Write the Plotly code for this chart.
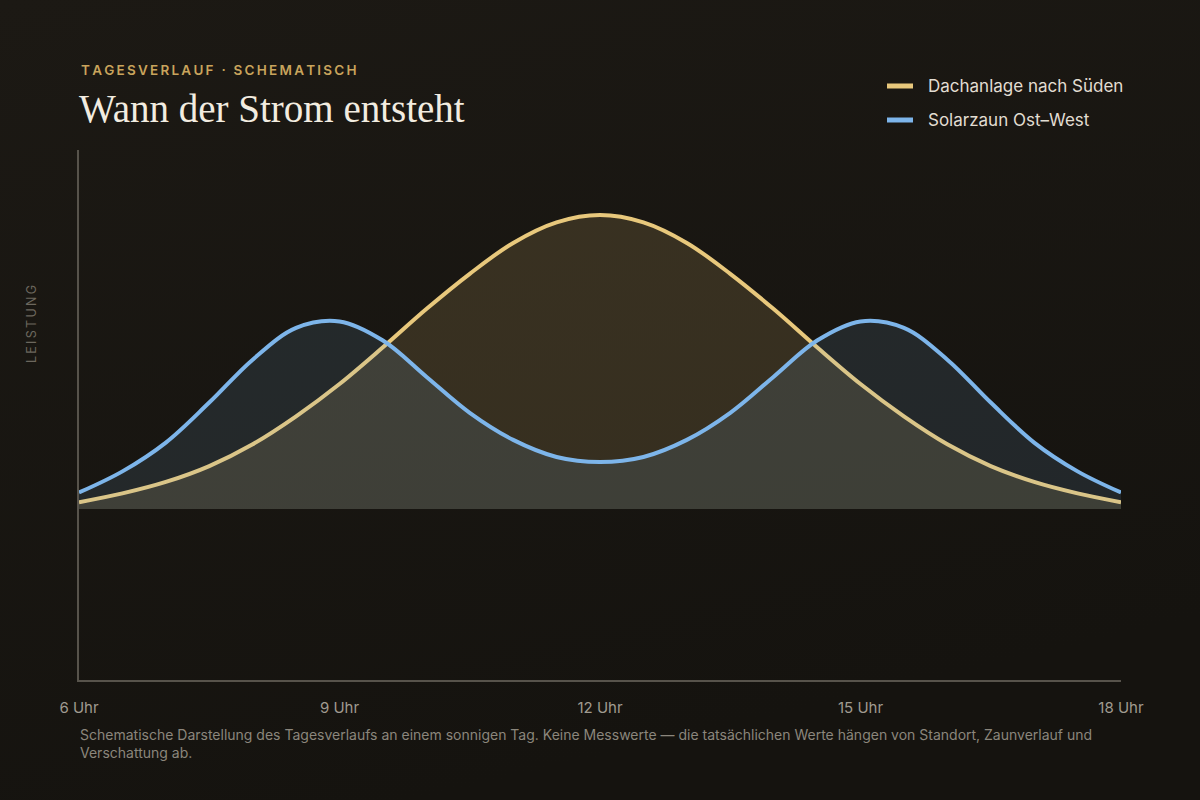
import base64
import plotly.graph_objects as go

# ---- data (arbitrary units, 0 = baseline) ----
hours = [6, 6.5, 7, 7.5, 8, 8.5, 9, 9.5, 10, 10.5, 11, 11.5, 12,
         12.5, 13, 13.5, 14, 14.5, 15, 15.5, 16, 16.5, 17, 17.5, 18]
dach_sued = [2.3, 5.3, 9.2, 14.6, 22.0, 31.5, 42.5, 55.0, 68.0, 80.0, 90.5, 97.5, 100.0,
             97.5, 90.5, 80.0, 68.0, 55.0, 42.5, 31.5, 22.0, 14.6, 9.2, 5.3, 2.3]
zaun_ostwest = [5.6, 12.8, 22.6, 36.2, 50.8, 61.6, 63.8, 57.3, 45.0, 32.7, 23.5, 17.7, 16.0,
                17.7, 23.5, 32.7, 45.0, 57.3, 63.8, 61.6, 50.8, 36.2, 22.6, 12.8, 5.6]
tick_vals = [6, 9, 12, 15, 18]
tick_text = ["6 Uhr", "9 Uhr", "12 Uhr", "15 Uhr", "18 Uhr"]
series_names = ["Dachanlage nach Süden", "Solarzaun Ost–West"]

BG = "#1a1712"
GOLD = "#e8c87c"
BLUE = "#7db5ea"
SANS = "Inter, 'Noto Sans', sans-serif"

fig = go.Figure()
fig.add_trace(go.Scatter(
    x=hours, y=dach_sued, name=series_names[0], mode="lines",
    line=dict(color=GOLD, width=4, shape="spline", smoothing=1.0),
    fill="tozeroy", fillcolor="rgba(232,200,124,0.15)", hoverinfo="skip"))
fig.add_trace(go.Scatter(
    x=hours, y=zaun_ostwest, name=series_names[1], mode="lines",
    line=dict(color=BLUE, width=4, shape="spline", smoothing=1.0),
    fill="tozeroy", fillcolor="rgba(125,181,234,0.12)", hoverinfo="skip"))

L, R, T, B = 79, 79, 150, 120
W, H = 1200, 800
pw, ph = W - L - R, H - T - B

def px(x):
    return (x - L) / pw

def py(y):
    return (H - B - y) / ph

thin = "\u2009"
sub = thin.join("TAGESVERLAUF · SCHEMATISCH")
ylab = thin.join("LEISTUNG")

ann = [
    dict(x=px(79), y=py(70), text=sub, xanchor="left", yanchor="middle",
         font=dict(family=SANS, size=13.5, color="#c9a45c", weight=600)),
    dict(x=px(77), y=py(109), text="Wann der Strom entsteht", xanchor="left", yanchor="middle",
         font=dict(family="'Liberation Serif', 'DejaVu Serif', serif", size=39, color="#f2ece0")),
    dict(x=px(926), y=py(86), text=series_names[0], xanchor="left", yanchor="middle",
         font=dict(family=SANS, size=17, color="#e2ddd2")),
    dict(x=px(926), y=py(120), text=series_names[1], xanchor="left", yanchor="middle",
         font=dict(family=SANS, size=17, color="#e2ddd2")),
    dict(x=px(31), y=py(324), text=ylab, textangle=-90, xanchor="center", yanchor="middle",
         font=dict(family=SANS, size=12.5, color="#6c675e")),
    dict(x=px(78), y=py(724), text="Schematische Darstellung des Tagesverlaufs an einem sonnigen Tag. "
         "Keine Messwerte — die tatsächlichen Werte hängen von Standort, Zaunverlauf und<br>Verschattung ab.",
         xanchor="left", yanchor="top", align="left",
         font=dict(family=SANS, size=14, color="#8b867c")),
]
for a in ann:
    a.update(xref="paper", yref="paper", showarrow=False)

shapes = [
    dict(type="line", xref="paper", yref="paper", x0=px(887), x1=px(913), y0=py(86), y1=py(86),
         line=dict(color=GOLD, width=5)),
    dict(type="line", xref="paper", yref="paper", x0=px(887), x1=px(913), y0=py(120), y1=py(120),
         line=dict(color=BLUE, width=5)),
]

svg = ('<svg xmlns="http://www.w3.org/2000/svg" width="1200" height="800" viewBox="0 0 1200 800" '
       'preserveAspectRatio="none"><defs><linearGradient id="g" x1="0" y1="0" x2="0.35" y2="1">'
       '<stop offset="0" stop-color="#1c1914"/><stop offset="1" stop-color="#15130f"/>'
       '</linearGradient></defs><rect width="1200" height="800" fill="url(#g)"/></svg>')
bg_src = "data:image/svg+xml;base64," + base64.b64encode(svg.encode()).decode()

scale = 2.94  # px per unit
fig.update_layout(
    width=W, height=H,
    margin=dict(l=L, r=R, t=T, b=B, pad=0),
    paper_bgcolor=BG, plot_bgcolor="rgba(0,0,0,0)",
    showlegend=False,
    annotations=ann, shapes=shapes,
    images=[dict(source=bg_src, xref="paper", yref="paper", x=px(0), y=py(0),
                 sizex=W / pw, sizey=H / ph, sizing="stretch", layer="below",
                 xanchor="left", yanchor="top")],
    xaxis=dict(range=[6, 18], tickvals=tick_vals, ticktext=tick_text,
               showgrid=False, zeroline=False, showline=True, linecolor="#57534b", linewidth=1.5,
               ticks="", ticklabelstandoff=13,
               tickfont=dict(family=SANS, size=15, color="#a09b90")),
    yaxis=dict(range=[-(680 - 509) / scale, (509 - 150) / scale],
               showgrid=False, zeroline=False, showticklabels=False, ticks="",
               showline=True, linecolor="#57534b", linewidth=1.5),
)
fig.write_html("out.html", config={"displayModeBar": False},
               post_script="document.body.style.margin='0';document.body.style.background='#1a1712';")
